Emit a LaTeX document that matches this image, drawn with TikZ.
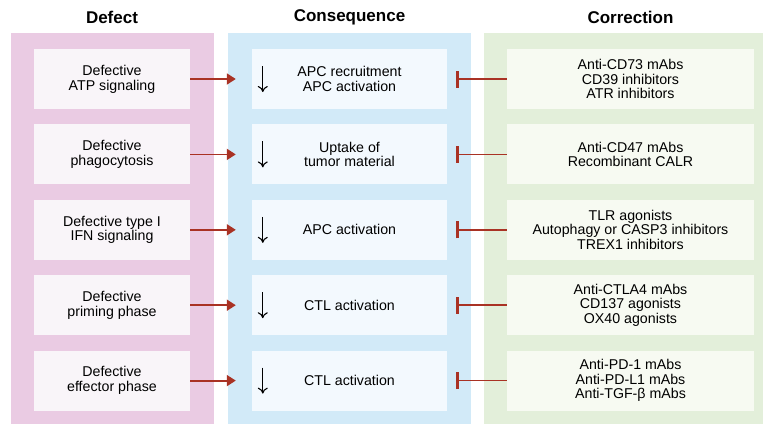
\documentclass[tikz,border=0pt]{standalone}
\usepackage{fontspec}
\setmainfont{Liberation Sans}
\usetikzlibrary{arrows.meta,positioning}

\definecolor{defpanel}{HTML}{EACBE3}
\definecolor{defin}{HTML}{F9F5F9}
\definecolor{conpanel}{HTML}{D2EAF8}
\definecolor{conin}{HTML}{F3F9FE}
\definecolor{corpanel}{HTML}{E3EFDA}
\definecolor{corin}{HTML}{F7FAF2}
\definecolor{arrred}{HTML}{A93224}

\begin{document}
\begin{tikzpicture}[x=1pt, y=-1pt, node distance = 15pt,
    font=\fontsize{14.2}{14.7}\selectfont,
    box/.style={align=center, minimum height=60pt, inner sep=0pt},
    defbox/.style={box, fill=defin, minimum width=156pt},
    conbox/.style={box, fill=conin, minimum width=195pt},
    corbox/.style={box, fill=corin, minimum width=247pt},
    title/.style={font=\fontsize{17}{20}\selectfont\bfseries},
    cause/.style={-{Triangle[length=9pt,width=11pt]}, line width=1.8pt, arrred, shorten >=16pt},
    block/.style={-{Bar[width=17pt,line width=3pt]}, line width=1.5pt, arrred, shorten >=9pt},
    drop/.style={-{To[length=6pt,width=10pt]}, line width=1.1pt}]
    \useasboundingbox (0,0) rectangle (763,424);

    % background panels
    \fill[defpanel] (11,33) rectangle (214,424);
    \fill[conpanel] (228,33) rectangle (471,424);
    \fill[corpanel] (484,33) rectangle (763,424);

    \node (tdef) [title] at (112,17) {Defect};
    \node (tcon) [title] at (349.5,17) {Consequence};
    \node (tcor) [title] at (630.5,17) {Correction};

    % defects
    \node (d1) [defbox] at (112,79) {Defective\\ATP signaling};
    \node (d2) [defbox, below=of d1] {Defective\\phagocytosis};
    \node (d3) [defbox, below=of d2] {Defective type I\\IFN signaling};
    \node (d4) [defbox, below=of d3] {Defective\\priming phase};
    \node (d5) [defbox, below=of d4] {Defective\\effector phase};

    % consequences
    \node (c1) [conbox] at (349.5,79) {APC recruitment\\APC activation};
    \node (c2) [conbox, below=of c1] {Uptake of\\tumor material};
    \node (c3) [conbox, below=of c2] {APC activation};
    \node (c4) [conbox, below=of c3] {CTL activation};
    \node (c5) [conbox, below=of c4] {CTL activation};

    % corrections
    \node (r1) [corbox] at (630.5,79) {Anti-CD73 mAbs\\CD39 inhibitors\\ATR inhibitors};
    \node (r2) [corbox, below=of r1] {Anti-CD47 mAbs\\Recombinant CALR};
    \node (r3) [corbox, below=of r2] {TLR agonists\\Autophagy or CASP3 inhibitors\\TREX1 inhibitors};
    \node (r4) [corbox, below=of r3] {Anti-CTLA4 mAbs\\CD137 agonists\\OX40 agonists};
    \node (r5) [corbox, below=of r4] {Anti-PD-1 mAbs\\Anti-PD-L1 mAbs\\Anti-TGF-β mAbs};

    \foreach \i in {1,...,5} {
        \path [cause] (d\i.east) edge (c\i.west);
        \path [block] (r\i.west) edge (c\i.east);
        \draw [drop] ([xshift=11pt,yshift=13pt]c\i.west) -- ([xshift=11pt,yshift=-13pt]c\i.west);
    }
\end{tikzpicture}
\end{document}
